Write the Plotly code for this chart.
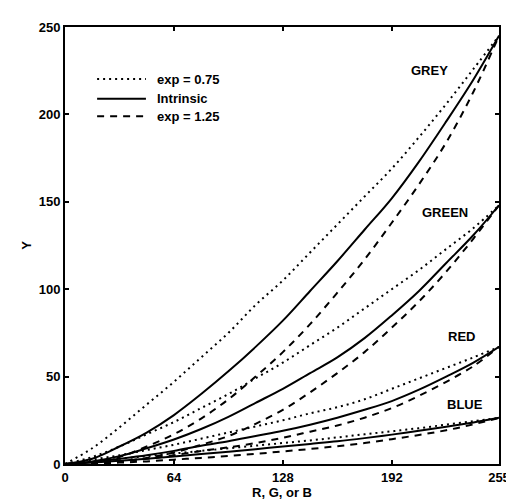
import plotly.graph_objects as go

x_vals = [0, 16, 32, 48, 64, 80, 96, 112, 128, 144, 160, 176, 192, 208, 224, 240, 255]

grey_075 = [0, 9, 21, 34, 47, 61, 75, 91, 105, 121, 137, 153, 169, 187, 206, 226, 245]
grey_int = [0, 3, 10, 18, 28, 40, 53, 67, 82, 99, 116, 134, 152, 173, 196, 220, 245]
grey_125 = [0, 1, 4, 10, 17, 26, 37, 50, 64, 80, 98, 117, 138, 160, 184, 213, 245]

green_075 = [0, 4, 10, 17, 24, 32, 40, 49, 58, 68, 78, 89, 100, 111, 123, 135, 148]
green_int = [0, 1.5, 4.5, 9, 14, 20, 27, 35, 43, 52, 61, 72, 85, 99, 115, 131, 148]
green_125 = [0, 0.3, 1.4, 3.4, 6.6, 11, 16, 23, 31, 41, 52, 64, 78, 93, 110, 129, 148]

red_075 = [0, 2.5, 5, 8, 11, 14.5, 18, 21.5, 25, 29, 32.5, 37, 43, 49, 55, 61, 67]
red_int = [0, 1.2, 3, 5, 7.5, 10.5, 13, 16, 19, 22.5, 26.5, 31, 36, 42.5, 50, 58, 67]
red_125 = [0, 0.5, 1.5, 3, 5, 7.5, 9.5, 12, 15, 18.5, 22, 26.5, 32, 39, 47, 56, 67]

blue_075 = [0, 1.5, 3, 4.5, 6, 7.5, 9, 10.5, 12, 13.5, 15.2, 17, 18.7, 20.5, 22.5, 24.5, 26.4]
blue_int = [0, 0.8, 1.8, 3, 4.3, 5.7, 7, 8.5, 10, 11.5, 13, 14.8, 16.8, 19, 21.3, 23.8, 26.4]
blue_125 = [0, 0.3, 0.8, 1.5, 2.5, 3.5, 4.6, 5.8, 7.2, 8.6, 10.2, 12, 14.2, 16.6, 19.3, 22.7, 26.4]

series_names = ["exp = 0.75", "Intrinsic", "exp = 1.25"]
color_labels = ["GREY", "GREEN", "RED", "BLUE"]
label_x = [214, 223, 233, 235]
label_y = [225, 144, 73, 34]
x_ticks = [0, 64, 128, 192, 255]
y_ticks = [0, 50, 100, 150, 200, 250]

groups = [
    [grey_075, grey_int, grey_125],
    [green_075, green_int, green_125],
    [red_075, red_int, red_125],
    [blue_075, blue_int, blue_125],
]
dashes = ["2px,4px", "solid", "7px,6px"]

FONT = "Liberation Sans, Arial, sans-serif"
BOLD = dict(family=FONT, size=13, color="black", weight="bold")

fig = go.Figure()
for gi, grp in enumerate(groups):
    for si, ys in enumerate(grp):
        fig.add_trace(go.Scatter(
            x=x_vals, y=ys, mode="lines",
            line=dict(color="black", width=2, dash=dashes[si], shape="spline", smoothing=1.0),
            name=series_names[si], showlegend=False,
        ))

for t, lx, ly in zip(color_labels, label_x, label_y):
    fig.add_annotation(x=lx, y=ly, text=t, showarrow=False, font=BOLD)

# legend key (drawn in paper coordinates)
leg_y = [0.881, 0.836, 0.7955]
for si, name in enumerate(series_names):
    fig.add_shape(type="line", xref="paper", yref="paper",
                  x0=0.074, x1=0.1865, y0=leg_y[si], y1=leg_y[si],
                  line=dict(color="black", width=2, dash=dashes[si]))
    fig.add_annotation(xref="paper", yref="paper", x=0.207, y=leg_y[si],
                       xanchor="left", yanchor="middle", text=name,
                       showarrow=False, font=BOLD)

axis_common = dict(
    showline=True, linecolor="black", linewidth=2, mirror="ticks",
    ticks="inside", ticklen=4, tickwidth=2, tickcolor="black",
    showgrid=False, zeroline=False,
    tickfont=BOLD,
)

fig.update_xaxes(range=[0, 255], tickvals=x_ticks, ticktext=[str(v) for v in x_ticks],
                 title=dict(text="R, G, or B", standoff=2, font=BOLD),
                 **axis_common)
fig.update_yaxes(range=[0, 250], tickvals=y_ticks,
                 title=dict(text="Y", standoff=4, font=BOLD),
                 **axis_common)

fig.update_layout(
    width=514, height=500,
    margin=dict(l=57, r=12, t=12, b=43),
    plot_bgcolor="white", paper_bgcolor="white",
    showlegend=False,
)

fig.write_html("out.html")
